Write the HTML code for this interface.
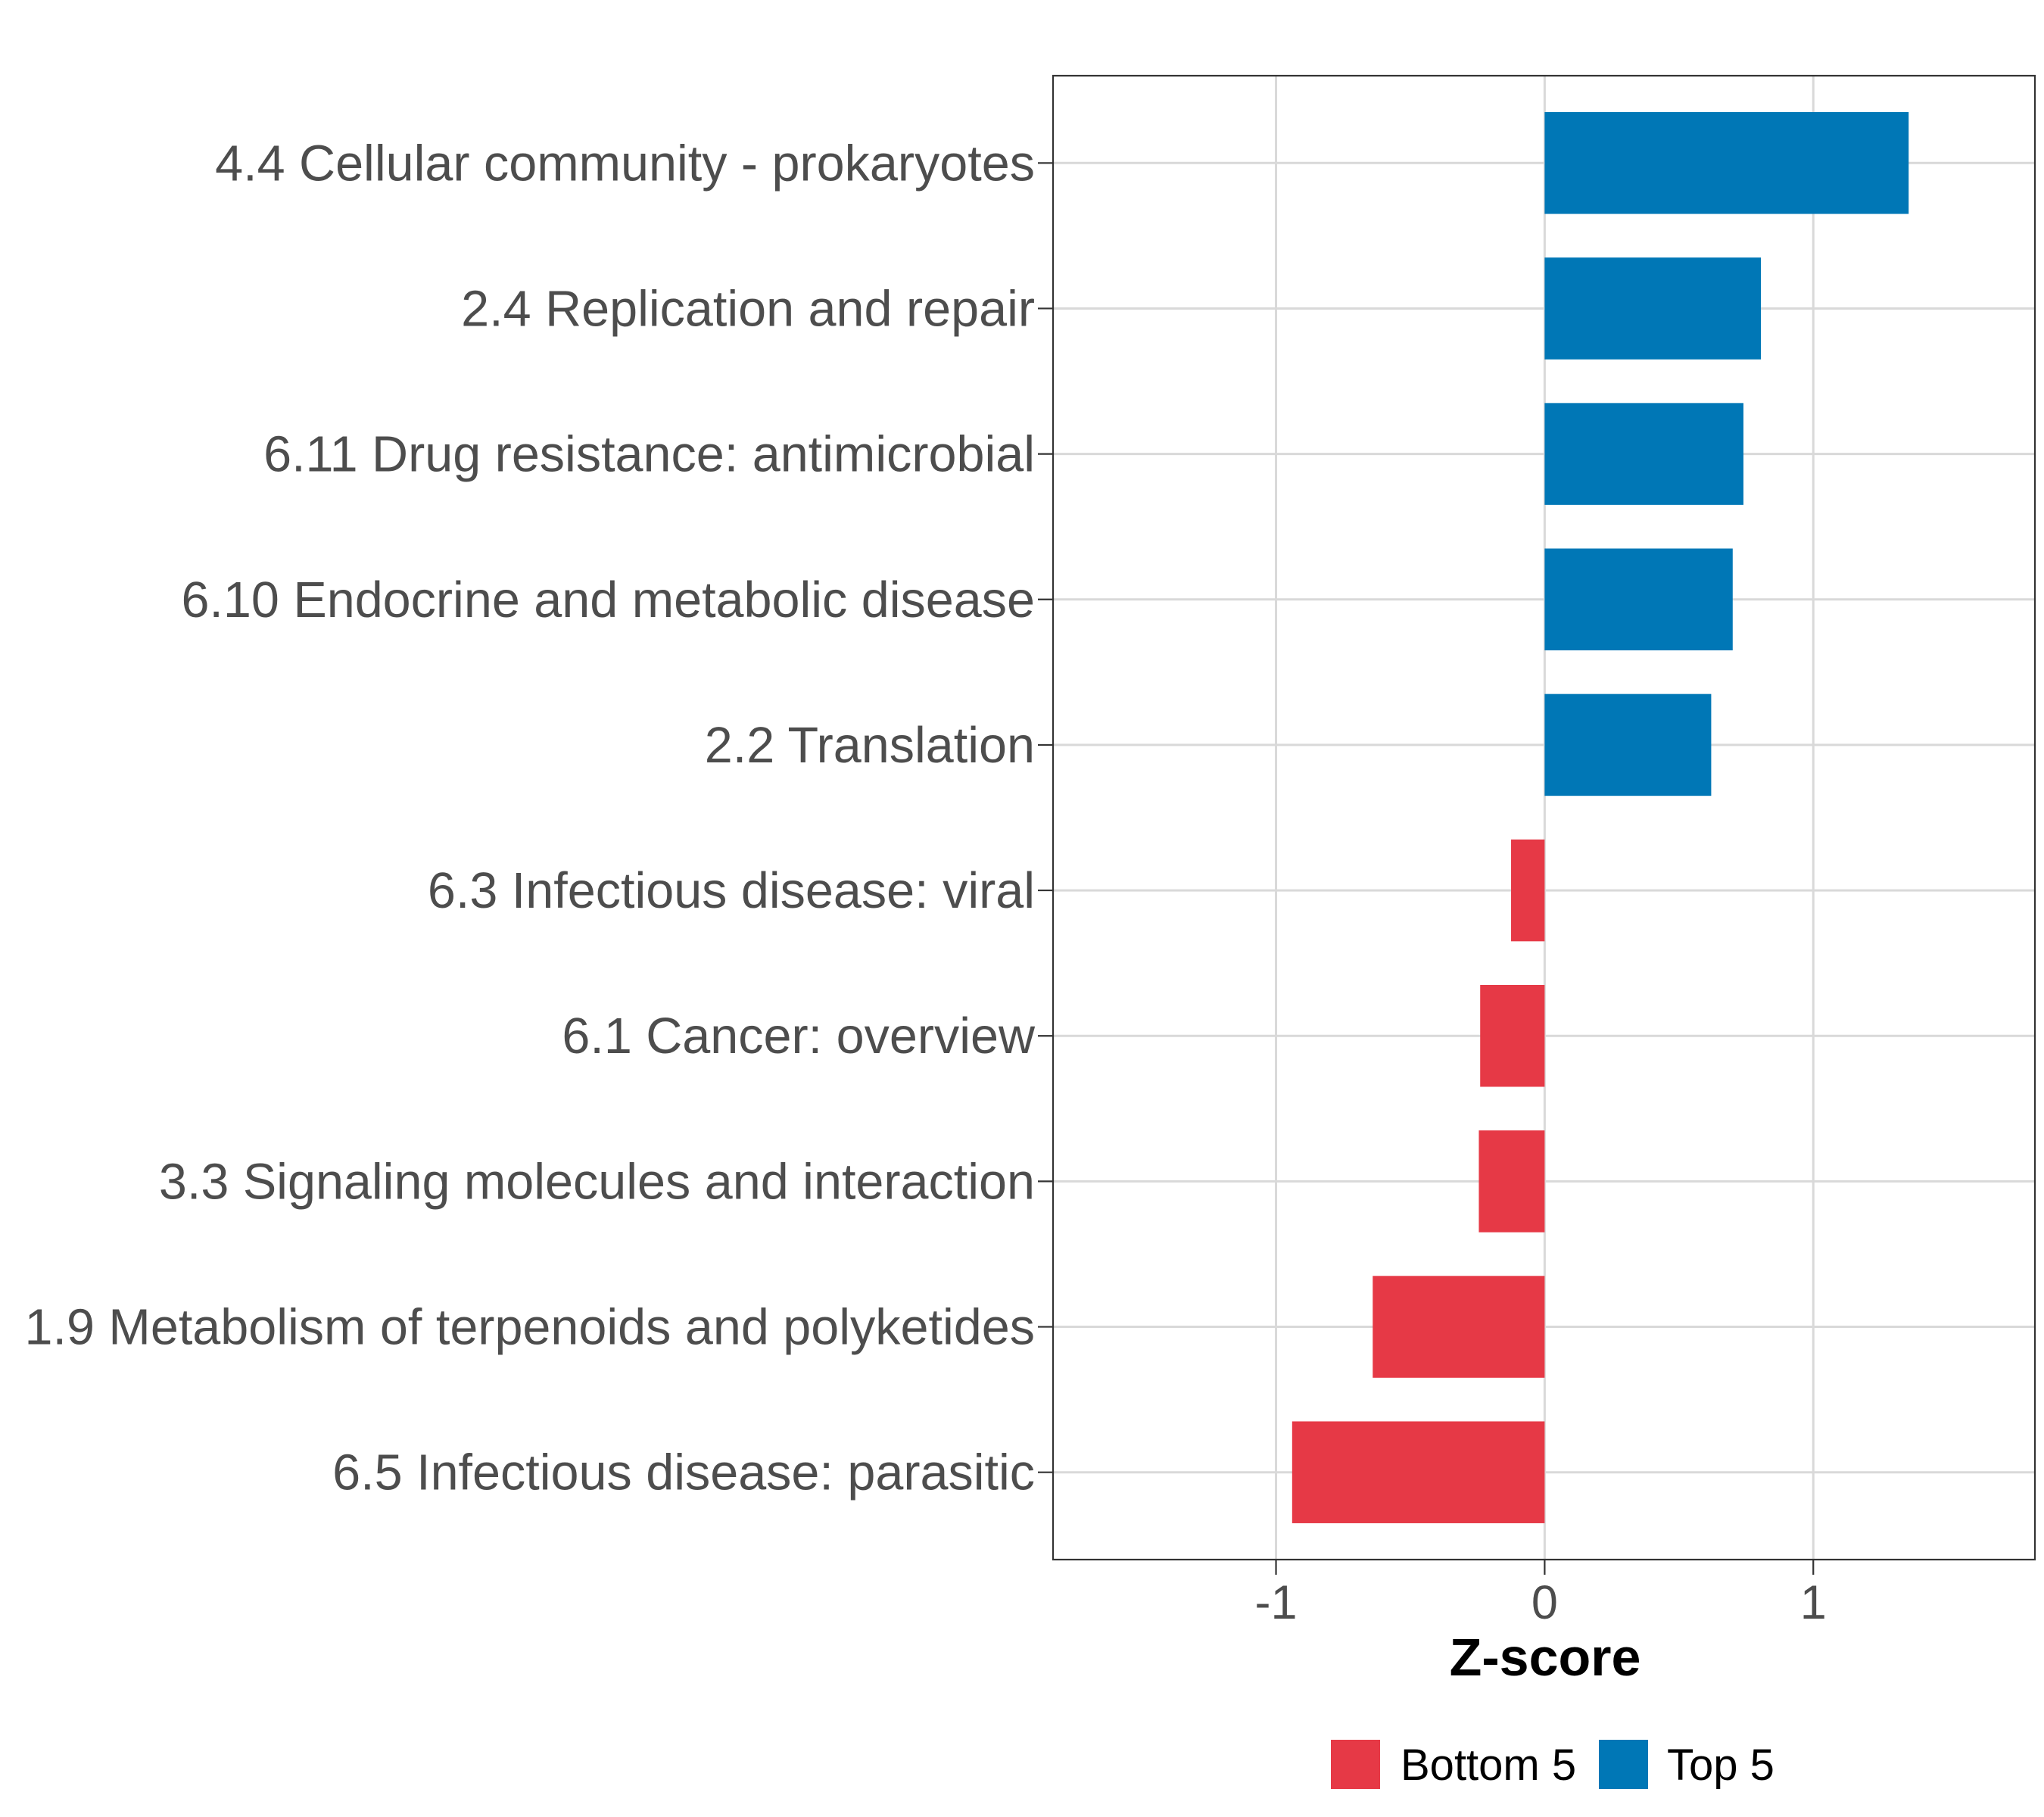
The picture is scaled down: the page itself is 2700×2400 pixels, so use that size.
<!DOCTYPE html>
<html><head><meta charset="utf-8"><style>
html,body{margin:0;padding:0;background:#fff;}
svg{display:block;font-family:"Liberation Sans",Arial,sans-serif;}
</style></head><body>
<svg id="chart" width="2700" height="2400" viewBox="0 0 2700 2400">
<rect width="2700" height="2400" fill="#fff"/>
<g id="grid"></g>
<g id="bars"></g>
<rect x="1391" y="100" width="1297" height="1960" fill="none" stroke="#333" stroke-width="2.2"/>
<g id="yaxis"></g>
<g id="xaxis"></g>
<text x="2041" y="2213" font-size="70" font-weight="bold" text-anchor="middle" fill="#000">Z-score</text>
<g>
<rect x="1758" y="2298" width="65" height="65" fill="#E63946"/>
<text x="1850" y="2351" font-size="58" fill="#000">Bottom 5</text>
<rect x="2112" y="2298" width="65" height="65" fill="#0077B6"/>
<text x="2202" y="2351" font-size="58" fill="#000">Top 5</text>
</g>
</svg>
<script>
const categories = ["4.4 Cellular community - prokaryotes","2.4 Replication and repair","6.11 Drug resistance: antimicrobial","6.10 Endocrine and metabolic disease","2.2 Translation","6.3 Infectious disease: viral","6.1 Cancer: overview","3.3 Signaling molecules and interaction","1.9 Metabolism of terpenoids and polyketides","6.5 Infectious disease: parasitic"];
const values = [1.355, 0.805, 0.74, 0.70, 0.62, -0.125, -0.24, -0.245, -0.64, -0.94];
const groups = ["Top 5","Top 5","Top 5","Top 5","Top 5","Bottom 5","Bottom 5","Bottom 5","Bottom 5","Bottom 5"];
const xTicks = [-1, 0, 1];
const xTickLabels = ["-1","0","1"];

const NS="http://www.w3.org/2000/svg";
const L=1391,R=2688,T=100,B=2060,xmin=-1.83,xmax=1.825;
const xs=v=>L+(v-xmin)/(xmax-xmin)*(R-L);
const pad=0.6;
const step=(B-T)/(categories.length-1+2*pad);
const yc=i=>T+step*(i+pad);
const bh=step*0.7;
function mk(tag,attrs,parent){const e=document.createElementNS(NS,tag);for(const k in attrs)e.setAttribute(k,attrs[k]);parent.appendChild(e);return e;}
const grid=document.getElementById('grid'),bars=document.getElementById('bars'),ya=document.getElementById('yaxis'),xa=document.getElementById('xaxis');
xTicks.forEach((t,i)=>{
 const g=mk('line',{x1:xs(t),x2:xs(t),y1:T,y2:B,stroke:'#d9d9d9','stroke-width':3},grid);
 
 
 const tk=mk('line',{x1:xs(t),x2:xs(t),y1:B,y2:B+20,stroke:'#333','stroke-width':2.2},xa);
 
 
 const tl=mk('text',{x:xs(t),y:B+78,'font-size':63,'text-anchor':'middle',fill:'#4d4d4d'},xa);
 tl.textContent=xTickLabels[i];
 
 
});
categories.forEach((c,i)=>{
 const y=yc(i);
 const g=mk('line',{x1:L,x2:R,y1:y,y2:y,stroke:'#d9d9d9','stroke-width':3},grid);
 
 
 const v=values[i];
 const x0=xs(Math.min(0,v)),x1=xs(Math.max(0,v));
 const r=mk('rect',{x:x0,y:y-bh/2,width:x1-x0,height:bh,fill:groups[i]==="Top 5"?'#0077B6':'#E63946'},bars);
 
 
 const tk=mk('line',{x1:L-20,x2:L,y1:y,y2:y,stroke:'#333','stroke-width':2.2},ya);
 
 
 const tl=mk('text',{x:L-24,y:y+23,'font-size':66.5,'text-anchor':'end',fill:'#4d4d4d'},ya);
 tl.textContent=c;
 
 
});
</script>
</body></html>
